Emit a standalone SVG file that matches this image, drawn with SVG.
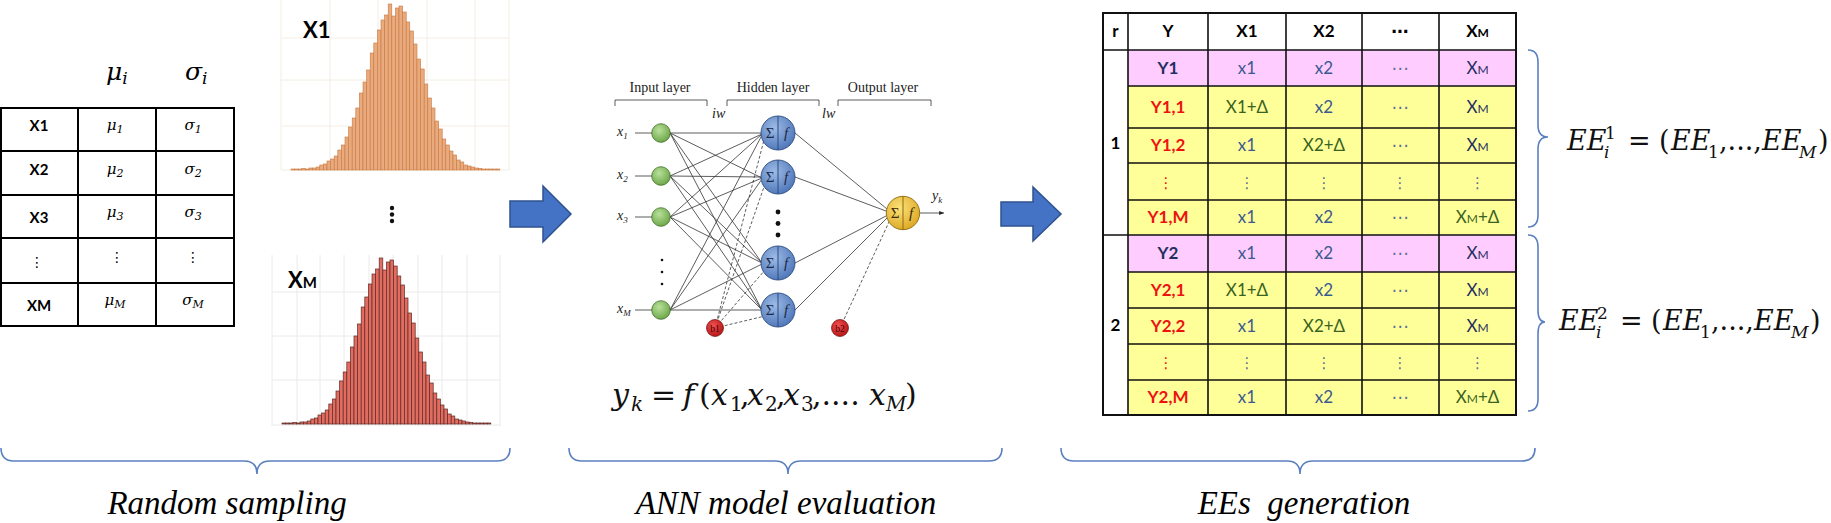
<svg xmlns="http://www.w3.org/2000/svg" xmlns:xlink="http://www.w3.org/1999/xlink" width="1831" height="523" viewBox="0 0 1831 523">
<style>
.sans{font-family:Lato,'Liberation Sans','DejaVu Sans',sans-serif}
.tb{font-family:Lato,'Liberation Sans','DejaVu Sans',sans-serif;font-size:17px;text-anchor:middle}
.b{font-weight:bold}
.navy{fill:#1F2F5E}
.blu{fill:#3B5A8E}
.grn{fill:#3A6321}
.red{fill:#EE1111}
.dots{fill:#5B6E96}
.serif{font-family:'Liberation Serif','Times New Roman',serif}
.math{font-family:'DejaVu Serif','Liberation Serif',serif}
.it{font-style:italic}
.grid1{stroke:#F4ECE4;stroke-width:1}
.grid2{stroke:#EAEAEA;stroke-width:1}
.brace{fill:none;stroke:#5B80C0;stroke-width:1.6}
.tline{stroke:#000;stroke-width:2;fill:none}
.w{stroke:#333;stroke-width:0.8;fill:none}
.wd{stroke:#333;stroke-width:0.8;fill:none;stroke-dasharray:3 2}
.big{fill:#4472C4;stroke:#2F528F;stroke-width:1.5}
.lbl{font-family:'Liberation Serif','Times New Roman',serif;font-size:14px;fill:#222}
</style>
<defs>
<radialGradient id="gG" cx="0.4" cy="0.35" r="0.7"><stop offset="0" stop-color="#B8E09A"/><stop offset="1" stop-color="#6AA444"/></radialGradient>
<radialGradient id="gB" cx="0.4" cy="0.35" r="0.7"><stop offset="0" stop-color="#9DBBE6"/><stop offset="1" stop-color="#4C74B8"/></radialGradient>
<radialGradient id="gY" cx="0.4" cy="0.35" r="0.7"><stop offset="0" stop-color="#FBE27A"/><stop offset="1" stop-color="#DDA622"/></radialGradient>
<radialGradient id="gR" cx="0.4" cy="0.35" r="0.7"><stop offset="0" stop-color="#F05050"/><stop offset="1" stop-color="#B51212"/></radialGradient>
<marker id="ah" viewBox="0 0 10 10" refX="10" refY="5" markerWidth="6" markerHeight="6" orient="auto"><path d="M0,1 L10,5 L0,9 Z" fill="#222"/></marker>
<g id="bars">
<rect x="0" y="-1" width="3.6" height="1"/><rect x="3.6" y="-1" width="3.6" height="1"/><rect x="7.2" y="-1" width="3.6" height="1"/><rect x="10.8" y="-1.5" width="3.6" height="1.5"/><rect x="14.4" y="-1" width="3.6" height="1"/><rect x="18" y="-2" width="3.6" height="2"/><rect x="21.6" y="-2" width="3.6" height="2"/><rect x="25.2" y="-3" width="3.6" height="3"/><rect x="28.8" y="-5" width="3.6" height="5"/><rect x="32.4" y="-6" width="3.6" height="6"/><rect x="36" y="-9" width="3.6" height="9"/><rect x="39.6" y="-11" width="3.6" height="11"/><rect x="43.2" y="-14" width="3.6" height="14"/><rect x="46.8" y="-20" width="3.6" height="20"/><rect x="50.4" y="-25" width="3.6" height="25"/><rect x="54" y="-33" width="3.6" height="33"/><rect x="57.6" y="-43" width="3.6" height="43"/><rect x="61.2" y="-52" width="3.6" height="52"/><rect x="64.8" y="-62" width="3.6" height="62"/><rect x="68.4" y="-77" width="3.6" height="77"/><rect x="72" y="-88" width="3.6" height="88"/><rect x="75.6" y="-100" width="3.6" height="100"/><rect x="79.2" y="-117" width="3.6" height="117"/><rect x="82.8" y="-127" width="3.6" height="127"/><rect x="86.4" y="-140" width="3.6" height="140"/><rect x="90" y="-150" width="3.6" height="150"/><rect x="93.6" y="-155" width="3.6" height="155"/><rect x="97.2" y="-166" width="3.6" height="166"/><rect x="100.8" y="-154" width="3.6" height="154"/><rect x="104.4" y="-162" width="3.6" height="162"/><rect x="108" y="-164" width="3.6" height="164"/><rect x="111.6" y="-158" width="3.6" height="158"/><rect x="115.2" y="-148" width="3.6" height="148"/><rect x="118.8" y="-139" width="3.6" height="139"/><rect x="122.4" y="-126" width="3.6" height="126"/><rect x="126" y="-111" width="3.6" height="111"/><rect x="129.6" y="-101" width="3.6" height="101"/><rect x="133.2" y="-86" width="3.6" height="86"/><rect x="136.8" y="-72" width="3.6" height="72"/><rect x="140.4" y="-62" width="3.6" height="62"/><rect x="144" y="-49" width="3.6" height="49"/><rect x="147.6" y="-41" width="3.6" height="41"/><rect x="151.2" y="-31" width="3.6" height="31"/><rect x="154.8" y="-25" width="3.6" height="25"/><rect x="158.4" y="-19" width="3.6" height="19"/><rect x="162" y="-15" width="3.6" height="15"/><rect x="165.6" y="-10" width="3.6" height="10"/><rect x="169.2" y="-8" width="3.6" height="8"/><rect x="172.8" y="-5" width="3.6" height="5"/><rect x="176.4" y="-4" width="3.6" height="4"/><rect x="180" y="-3" width="3.6" height="3"/><rect x="183.6" y="-2" width="3.6" height="2"/><rect x="187.2" y="-1.5" width="3.6" height="1.5"/><rect x="190.8" y="-1" width="3.6" height="1"/><rect x="194.4" y="-1" width="3.6" height="1"/><rect x="198" y="-1" width="3.6" height="1"/><rect x="201.6" y="-1" width="3.6" height="1"/><rect x="205.2" y="-1" width="3.6" height="1"/>
</g>
</defs>
<rect width="1831" height="523" fill="#fff"/>

<!-- Left table -->
<g id="param-table">
<text x="106" y="80" class="math it" font-size="25">μ<tspan font-size="17" dy="4">i</tspan></text>
<text x="185" y="80" class="math it" font-size="25">σ<tspan font-size="17" dy="4">i</tspan></text>
<rect x="1" y="108" width="233" height="218" class="tline"/>
<path class="tline" d="M78,108 V326 M156,108 V326 M1,151 H234 M1,195 H234 M1,238 H234 M1,283 H234"/>
<g class="sans b" font-size="15" text-anchor="middle">
<text x="39" y="131">X1</text><text x="39" y="175">X2</text><text x="39" y="223">X3</text><text x="39" y="311">XM</text>
</g>
<g class="math it" font-size="15" text-anchor="middle">
<text x="115" y="130">μ<tspan font-size="11" dy="3">1</tspan></text>
<text x="193" y="130">σ<tspan font-size="11" dy="3">1</tspan></text>
<text x="115" y="174">μ<tspan font-size="11" dy="3">2</tspan></text>
<text x="193" y="174">σ<tspan font-size="11" dy="3">2</tspan></text>
<text x="115" y="217">μ<tspan font-size="11" dy="3">3</tspan></text>
<text x="193" y="217">σ<tspan font-size="11" dy="3">3</tspan></text>
<text x="115" y="305">μ<tspan font-size="11" dy="3">M</tspan></text>
<text x="193" y="305">σ<tspan font-size="11" dy="3">M</tspan></text>
</g>
<g font-family="'DejaVu Sans',sans-serif" font-size="14" text-anchor="middle">
<text x="37" y="267">⋮</text><text x="117" y="262">⋮</text><text x="193" y="262">⋮</text>
</g>
</g>

<!-- Histogram X1 -->
<g id="hist-x1">
<path class="grid1" d="M281,0 V170 M330,0 V170 M378,0 V170 M427,0 V170 M475,0 V170 M509,0 V170 M281,38 H509 M281,80 H509 M281,126 H509 M281,170 H509"/>
<use xlink:href="#bars" href="#bars" transform="translate(291,170)" fill="#E9AA7E" stroke="#C8783F" stroke-width="0.6"/>
<text x="303" y="38" class="sans b" font-size="22">X1</text>
</g>
<g id="hist-dots" fill="#111">
<circle cx="392" cy="208" r="2.2"/><circle cx="392" cy="214.5" r="2.2"/><circle cx="392" cy="221" r="2.2"/>
</g>
<!-- Histogram XM -->
<g id="hist-xm">
<path class="grid2" d="M272,255 V426 M297,255 V426 M320,255 V426 M344,255 V426 M369,255 V426 M393,255 V426 M418,255 V426 M442,255 V426 M467,255 V426 M500,255 V426 M272,292 H500 M272,336 H500 M272,380 H500 M272,425 H500"/>
<use xlink:href="#bars" href="#bars" transform="translate(282,424)" fill="#E36C60" stroke="#5B2A25" stroke-width="0.7"/>
<text x="288" y="288" class="sans b" font-size="22">X<tspan font-size="15">M</tspan></text>
</g>

<!-- Connectors -->
<g id="connectors">
<path class="big" d="M510,201 L543,201 L543,186 L571,214 L543,242 L543,227 L510,227 Z"/>
<path class="big" d="M1001,202 L1033,202 L1033,187 L1061,214 L1033,241 L1033,226 L1001,226 Z"/>
<path class="w" d="M670,133 L761,133 M670,133 L762,178 M670,133 L762,263 M670,133 L762,310
M670,176 L762,134 M670,176 L761,177 M670,176 L762,263 M670,176 L762,310
M670,217 L762,134 M670,217 L762,178 M670,217 L762,263 M670,217 L762,310
M670,310 L762,135 M670,310 L762,179 M670,310 L762,264 M670,310 L761,310"/>
<path class="wd" d="M715,328 L764,140 M715,328 L765,184 M715,328 L765,270 M715,328 L765,316"/>
<path class="w" d="M795,133 L887,209 M795,177 L886,211 M795,263 L886,216 M795,310 L887,218"/>
<path class="wd" d="M840,328 L889,222"/>
<path class="w" d="M635,133 L652,133 M635,176 L652,176 M635,217 L652,217 M635,310 L652,310 M920,213 L944,213" marker-end="url(#ah)"/>
</g>

<!-- ANN -->
<g id="ann-labels">
<text class="lbl" x="660" y="92" text-anchor="middle">Input layer</text>
<text class="lbl" x="773" y="92" text-anchor="middle">Hidden layer</text>
<text class="lbl" x="883" y="92" text-anchor="middle">Output layer</text>
<path d="M615,106 V100 H707 V106 M727,106 V100 H819 V106 M838,106 V100 H931 V106" fill="none" stroke="#333" stroke-width="0.8"/>
<text class="lbl it" x="712" y="118" font-size="13">iw</text>
<text class="lbl it" x="822" y="118" font-size="13">lw</text>
<text class="lbl it" x="617" y="136">x<tspan font-size="9" dy="3">1</tspan></text>
<text class="lbl it" x="617" y="179">x<tspan font-size="9" dy="3">2</tspan></text>
<text class="lbl it" x="617" y="220">x<tspan font-size="9" dy="3">3</tspan></text>
<text class="lbl it" x="617" y="313">x<tspan font-size="9" dy="3">M</tspan></text>
<text class="lbl it" x="932" y="200">y<tspan font-size="9" dy="3">k</tspan></text>
</g>
<g id="input-nodes" fill="url(#gG)" stroke="#3F6F2A" stroke-width="0.8">
<circle cx="661" cy="133" r="9.3"/><circle cx="661" cy="176" r="9.3"/><circle cx="661" cy="217" r="9.3"/><circle cx="661" cy="310" r="9.3"/>
</g>
<g id="input-dots" fill="#111"><circle cx="662" cy="260" r="1.3"/><circle cx="662" cy="272" r="1.3"/><circle cx="662" cy="284" r="1.3"/></g>
<g id="hidden-nodes">
<g fill="url(#gB)" stroke="#2E4C80" stroke-width="0.9">
<circle cx="778" cy="133" r="17"/><circle cx="778" cy="177" r="17"/><circle cx="778" cy="263" r="17"/><circle cx="778" cy="310" r="17"/>
</g>
<path d="M778,116 V150 M778,160 V194 M778,246 V280 M778,293 V327" stroke="#2E4C80" stroke-width="1"/>
<g class="serif" font-size="15" fill="#1a2a45" text-anchor="middle">
<text x="770" y="138">Σ</text><text x="786" y="138" class="it">f</text>
<text x="770" y="182">Σ</text><text x="786" y="182" class="it">f</text>
<text x="770" y="268">Σ</text><text x="786" y="268" class="it">f</text>
<text x="770" y="315">Σ</text><text x="786" y="315" class="it">f</text>
</g>
<g fill="#111"><circle cx="778" cy="212" r="2.4"/><circle cx="778" cy="223.5" r="2.4"/><circle cx="778" cy="235" r="2.4"/></g>
</g>
<g id="output-node">
<circle cx="903" cy="213" r="16.7" fill="url(#gY)" stroke="#8C6A10" stroke-width="0.9"/>
<path d="M903,196.3 V229.7" stroke="#8C6A10" stroke-width="1"/>
<text x="895" y="218" class="serif" font-size="15" fill="#3a2a05" text-anchor="middle">Σ</text>
<text x="911" y="218" class="serif it" font-size="15" fill="#3a2a05" text-anchor="middle">f</text>
</g>
<g id="bias-nodes">
<circle cx="715" cy="328" r="8.5" fill="url(#gR)" stroke="#701010" stroke-width="0.7"/>
<circle cx="840" cy="328" r="8.5" fill="url(#gR)" stroke="#701010" stroke-width="0.7"/>
<text x="715" y="331.5" class="serif" font-size="9.5" fill="#400" text-anchor="middle">b1</text>
<text x="840" y="331.5" class="serif" font-size="9.5" fill="#400" text-anchor="middle">b2</text>
</g>
<g id="ann-formula" class="math" font-size="30" fill="#111">
<text y="405"><tspan x="612" class="it">y</tspan><tspan x="631" y="411" font-size="20" class="it">k</tspan><tspan x="651" y="405">=</tspan><tspan x="683" class="it">f</tspan><tspan x="699">(</tspan><tspan x="711" class="it">x</tspan><tspan x="730" y="411" font-size="20">1</tspan><tspan x="740" y="405">,</tspan><tspan x="747" class="it">x</tspan><tspan x="765" y="411" font-size="20">2</tspan><tspan x="776" y="405">,</tspan><tspan x="783" class="it">x</tspan><tspan x="801" y="411" font-size="20">3</tspan><tspan x="812" y="405">,....</tspan><tspan x="869" class="it">x</tspan><tspan x="886" y="411" font-size="20" class="it">M</tspan><tspan x="905" y="405">)</tspan></text>
</g>

<!-- Right table -->
<g id="ee-table">
<rect x="1103" y="13" width="413" height="37" fill="#fff"/>
<rect x="1103" y="50" width="25" height="365" fill="#fff"/>
<rect x="1128" y="50" width="388" height="36" fill="#FFCCFF"/>
<rect x="1128" y="86" width="388" height="149" fill="#FFFF99"/>
<rect x="1128" y="235" width="388" height="37" fill="#FFCCFF"/>
<rect x="1128" y="272" width="388" height="143" fill="#FFFF99"/>
<path stroke="#111" stroke-width="1.6" fill="none" d="M1128,86 H1516 M1128,128 H1516 M1128,163 H1516 M1128,200 H1516 M1128,272 H1516 M1128,308 H1516 M1128,344 H1516 M1128,380 H1516 M1103,50 H1516 M1103,235 H1516 M1128,13 V415 M1208,13 V415 M1286,13 V415 M1362,13 V415 M1439,13 V415"/>
<rect x="1103" y="13" width="413" height="402" fill="none" stroke="#111" stroke-width="2"/>
<g class="tb b">
<text x="1115.5" y="37">r</text><text x="1168" y="37">Y</text><text x="1247" y="37">X1</text><text x="1324" y="37">X2</text><text x="1400" y="37">⋯</text><text x="1477.5" y="37">X<tspan font-size="12">M</tspan></text>
<text x="1115.5" y="149">1</text><text x="1115.5" y="331">2</text>
</g>
<g class="tb">
<text x="1168" y="74" class="b navy">Y1</text><text x="1247" y="74" class="blu">x1</text><text x="1324" y="74" class="blu">x2</text><text x="1400" y="74" class="dots">⋯</text><text x="1477.5" y="74" class="navy">X<tspan font-size="12">M</tspan></text>
<text x="1168" y="113" class="b red">Y1,1</text><text x="1247" y="113" class="grn">X1+Δ</text><text x="1324" y="113" class="blu">x2</text><text x="1400" y="113" class="dots">⋯</text><text x="1477.5" y="113" class="navy">X<tspan font-size="12">M</tspan></text>
<text x="1168" y="151" class="b red">Y1,2</text><text x="1247" y="151" class="blu">x1</text><text x="1324" y="151" class="grn">X2+Δ</text><text x="1400" y="151" class="dots">⋯</text><text x="1477.5" y="151" class="navy">X<tspan font-size="12">M</tspan></text>
<text x="1166" y="188" class="red" font-size="15">⋮</text><text x="1247" y="188" class="dots" font-size="15">⋮</text><text x="1324" y="188" class="dots" font-size="15">⋮</text><text x="1400" y="188" class="dots" font-size="15">⋮</text><text x="1477.5" y="188" class="dots" font-size="15">⋮</text>
<text x="1168" y="223" class="b red">Y1,M</text><text x="1247" y="223" class="blu">x1</text><text x="1324" y="223" class="blu">x2</text><text x="1400" y="223" class="dots">⋯</text><text x="1477.5" y="223" class="grn">X<tspan font-size="12">M</tspan>+Δ</text>
<text x="1168" y="259" class="b navy">Y2</text><text x="1247" y="259" class="blu">x1</text><text x="1324" y="259" class="blu">x2</text><text x="1400" y="259" class="dots">⋯</text><text x="1477.5" y="259" class="navy">X<tspan font-size="12">M</tspan></text>
<text x="1168" y="296" class="b red">Y2,1</text><text x="1247" y="296" class="grn">X1+Δ</text><text x="1324" y="296" class="blu">x2</text><text x="1400" y="296" class="dots">⋯</text><text x="1477.5" y="296" class="navy">X<tspan font-size="12">M</tspan></text>
<text x="1168" y="332" class="b red">Y2,2</text><text x="1247" y="332" class="blu">x1</text><text x="1324" y="332" class="grn">X2+Δ</text><text x="1400" y="332" class="dots">⋯</text><text x="1477.5" y="332" class="navy">X<tspan font-size="12">M</tspan></text>
<text x="1166" y="368" class="red" font-size="15">⋮</text><text x="1247" y="368" class="dots" font-size="15">⋮</text><text x="1324" y="368" class="dots" font-size="15">⋮</text><text x="1400" y="368" class="dots" font-size="15">⋮</text><text x="1477.5" y="368" class="dots" font-size="15">⋮</text>
<text x="1168" y="403" class="b red">Y2,M</text><text x="1247" y="403" class="blu">x1</text><text x="1324" y="403" class="blu">x2</text><text x="1400" y="403" class="dots">⋯</text><text x="1477.5" y="403" class="grn">X<tspan font-size="12">M</tspan>+Δ</text>
</g>
</g>

<!-- Right braces & formulas -->
<g id="ee-brace-1">
<path class="brace" d="M1528,50 Q1538,50 1538,62 L1538,125 Q1538,137 1548,137 Q1538,137 1538,149 L1538,215 Q1538,227 1528,227"/>
</g>
<g id="ee-brace-2">
<path class="brace" d="M1528,235 Q1538,235 1538,247 L1538,310 Q1538,322 1545,322 Q1538,322 1538,334 L1538,399 Q1538,411 1528,411"/>
</g>
<g id="ee-formula-1" class="math" font-size="27" fill="#111">
<text y="150"><tspan x="1567" class="it">EE</tspan><tspan x="1605" y="139" font-size="17">1</tspan><tspan x="1604" y="158" font-size="17" class="it">i</tspan><tspan x="1628" y="150">=</tspan><tspan x="1659">(</tspan><tspan x="1671" class="it">EE</tspan><tspan x="1708" y="158" font-size="17">1</tspan><tspan x="1719" y="150">,...,</tspan><tspan x="1762" class="it">EE</tspan><tspan x="1799" y="158" font-size="17" class="it">M</tspan><tspan x="1818" y="150">)</tspan></text>
</g>
<g id="ee-formula-2" class="math" font-size="27" fill="#111">
<text y="330"><tspan x="1559" class="it">EE</tspan><tspan x="1597" y="319" font-size="17">2</tspan><tspan x="1596" y="338" font-size="17" class="it">i</tspan><tspan x="1620" y="330">=</tspan><tspan x="1651">(</tspan><tspan x="1663" class="it">EE</tspan><tspan x="1700" y="338" font-size="17">1</tspan><tspan x="1711" y="330">,...,</tspan><tspan x="1754" class="it">EE</tspan><tspan x="1791" y="338" font-size="17" class="it">M</tspan><tspan x="1810" y="330">)</tspan></text>
</g>

<!-- Bottom braces and captions -->
<g id="stage-random-sampling">
<path class="brace" d="M1,448 Q1,461 14,461 L244,461 Q257,461 257,474 Q257,461 270,461 L497,461 Q510,461 510,448"/>
<text x="227" y="514" class="serif it" font-size="33" text-anchor="middle">Random sampling</text>
</g>
<g id="stage-ann">
<path class="brace" d="M569,448 Q569,461 582,461 L775,461 Q788,461 788,474 Q788,461 801,461 L989,461 Q1002,461 1002,448"/>
<text x="786" y="514" class="serif it" font-size="33" text-anchor="middle">ANN model evaluation</text>
</g>
<g id="stage-ees">
<path class="brace" d="M1061,448 Q1061,461 1074,461 L1287,461 Q1300,461 1300,474 Q1300,461 1313,461 L1522,461 Q1535,461 1535,448"/>
<text x="1304" y="514" class="serif it" font-size="33" text-anchor="middle" style="white-space:pre">EEs  generation</text>
</g>
</svg>
